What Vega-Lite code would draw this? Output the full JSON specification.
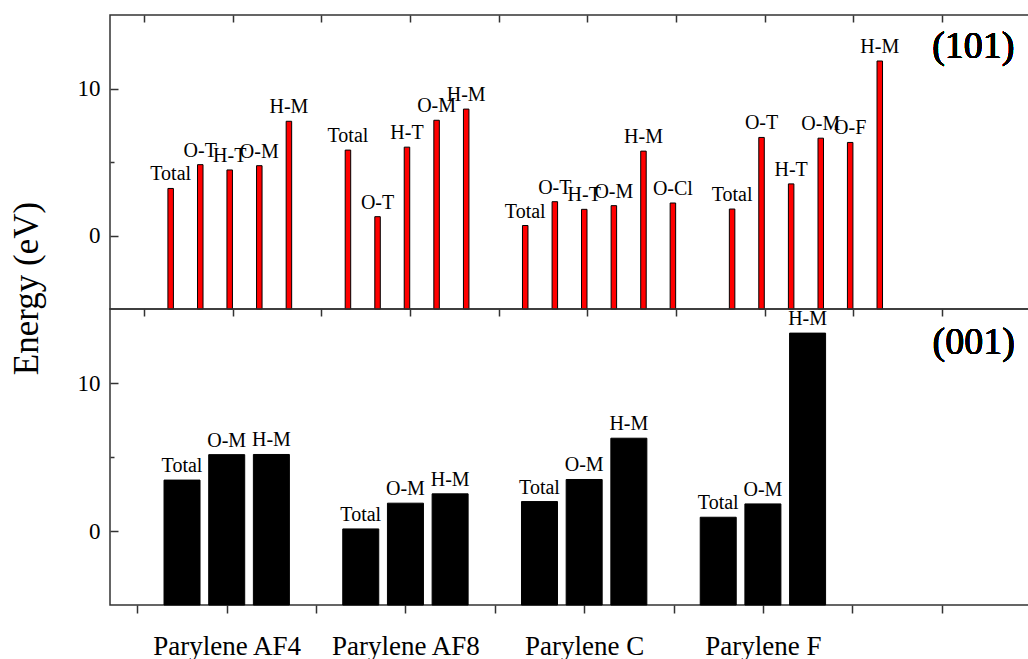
{
  "$schema": "https://vega.github.io/schema/vega-lite/v6.json",
  "background": "white",
  "padding": {"left": 8, "top": 13, "right": 0, "bottom": 0},
  "spacing": 0,
  "bounds": "flush",
  "config": {
    "view": {"stroke": "#333", "strokeWidth": 1.5},
    "font": "Liberation Serif",
    "axis": {"domain": false, "grid": false, "labelFont": "Liberation Serif", "titleFont": "Liberation Serif", "labelColor": "#000", "titleColor": "#000", "tickColor": "#333", "tickWidth": 1.5},
    "text": {"font": "Liberation Serif", "color": "#000", "fontWeight": "normal"}
  },
  "vconcat": [
    {
      "width": 926,
      "height": 294,
      "data": {"values": [
        {"material": "Parylene AF4", "label": "Total", "x": 0.65, "energy": 3.20},
        {"material": "Parylene AF4", "label": "O-T", "x": 0.817, "energy": 4.82},
        {"material": "Parylene AF4", "label": "H-T", "x": 0.983, "energy": 4.46},
        {"material": "Parylene AF4", "label": "O-M", "x": 1.15, "energy": 4.75},
        {"material": "Parylene AF4", "label": "H-M", "x": 1.317, "energy": 7.77},
        {"material": "Parylene AF8", "label": "Total", "x": 1.65, "energy": 5.81},
        {"material": "Parylene AF8", "label": "O-T", "x": 1.817, "energy": 1.28},
        {"material": "Parylene AF8", "label": "H-T", "x": 1.983, "energy": 6.01},
        {"material": "Parylene AF8", "label": "O-M", "x": 2.15, "energy": 7.84},
        {"material": "Parylene AF8", "label": "H-M", "x": 2.317, "energy": 8.60},
        {"material": "Parylene C", "label": "Total", "x": 2.65, "energy": 0.68},
        {"material": "Parylene C", "label": "O-T", "x": 2.817, "energy": 2.30},
        {"material": "Parylene C", "label": "H-T", "x": 2.983, "energy": 1.78},
        {"material": "Parylene C", "label": "O-M", "x": 3.15, "energy": 2.03},
        {"material": "Parylene C", "label": "H-M", "x": 3.317, "energy": 5.74},
        {"material": "Parylene C", "label": "O-Cl", "x": 3.483, "energy": 2.21},
        {"material": "Parylene F", "label": "Total", "x": 3.817, "energy": 1.80},
        {"material": "Parylene F", "label": "O-T", "x": 3.983, "energy": 6.67},
        {"material": "Parylene F", "label": "H-T", "x": 4.15, "energy": 3.51},
        {"material": "Parylene F", "label": "O-M", "x": 4.317, "energy": 6.62},
        {"material": "Parylene F", "label": "O-F", "x": 4.483, "energy": 6.33},
        {"material": "Parylene F", "label": "H-M", "x": 4.65, "energy": 11.87}
      ]},
      "layer": [
        {
          "mark": {"type": "bar", "width": 5.5, "color": "#ff0000", "stroke": "#000", "strokeWidth": 1},
          "encoding": {
            "x": {"field": "x", "type": "quantitative",
              "scale": {"domain": [0.336, 5.503], "nice": false, "zero": false},
              "axis": {"orient": "bottom", "values": [0.5, 1, 1.5, 2, 2.5, 3, 3.5, 4, 4.5, 5], "labels": false, "tickSize": 7, "title": null}},
            "y": {"field": "energy", "type": "quantitative",
              "scale": {"domain": [-5, 15], "nice": false, "zero": false},
              "axis": {"orient": "left", "values": [0, 5, 10], "labelExpr": "datum.value == 5 ? '' : datum.label",
                "tickSize": {"condition": {"test": "datum.value == 5", "value": -4}, "value": -8},
                "labelFontSize": 23, "labelPadding": 18,
                "title": "Energy (eV)", "titleFontSize": 35, "titleFontWeight": "normal",
                "titleAngle": -90, "titleBaseline": "alphabetic", "titleAlign": "center", "titleX": -73, "titleY": 273}},
            "y2": {"datum": -5}
          }
        },
        {
          "mark": {"type": "text", "baseline": "alphabetic", "dy": -8, "fontSize": 20},
          "encoding": {
            "x": {"field": "x", "type": "quantitative",
              "axis": {"orient": "top", "values": [0.5, 1, 1.5, 2, 2.5, 3, 3.5, 4, 4.5, 5], "labels": false, "tickSize": -7, "title": null}},
            "y": {"field": "energy", "type": "quantitative",
              "axis": {"orient": "right", "values": [0, 5, 10], "labels": false,
                "tickSize": {"condition": {"test": "datum.value == 5", "value": -4}, "value": -8}, "title": null}},
            "text": {"field": "label"}
          }
        },
        {
          "mark": {"type": "text", "align": "right", "baseline": "middle", "fontSize": 38, "fontWeight": "normal"},
          "encoding": {
            "x": {"datum": 5.41, "type": "quantitative", "axis": null},
            "y": {"datum": 12.8, "type": "quantitative", "axis": null},
            "text": {"value": "(101)"}
          }
        }
      ],
      "resolve": {"axis": {"x": "independent", "y": "independent"}}
    },
    {
      "width": 926,
      "height": 296,
      "data": {"values": [
        {"material": "Parylene AF4", "label": "Total", "x": 0.75, "energy": 3.44},
        {"material": "Parylene AF4", "label": "O-M", "x": 1.0, "energy": 5.16},
        {"material": "Parylene AF4", "label": "H-M", "x": 1.25, "energy": 5.17},
        {"material": "Parylene AF8", "label": "Total", "x": 1.75, "energy": 0.14},
        {"material": "Parylene AF8", "label": "O-M", "x": 2.0, "energy": 1.88},
        {"material": "Parylene AF8", "label": "H-M", "x": 2.25, "energy": 2.51},
        {"material": "Parylene C", "label": "Total", "x": 2.75, "energy": 1.99},
        {"material": "Parylene C", "label": "O-M", "x": 3.0, "energy": 3.48},
        {"material": "Parylene C", "label": "H-M", "x": 3.25, "energy": 6.27},
        {"material": "Parylene F", "label": "Total", "x": 3.75, "energy": 0.93},
        {"material": "Parylene F", "label": "O-M", "x": 4.0, "energy": 1.83},
        {"material": "Parylene F", "label": "H-M", "x": 4.25, "energy": 13.37}
      ]},
      "layer": [
        {
          "mark": {"type": "bar", "width": 36, "color": "#000", "stroke": "#000", "strokeWidth": 1},
          "encoding": {
            "x": {"field": "x", "type": "quantitative",
              "scale": {"domain": [0.375, 5.5], "nice": false, "zero": false},
              "axis": {"orient": "bottom", "values": [0.5, 1, 1.5, 2, 2.5, 3, 3.5, 4, 4.5, 5],
                "labelExpr": "datum.value == 1 ? 'Parylene AF4' : datum.value == 2 ? 'Parylene AF8' : datum.value == 3 ? 'Parylene C' : datum.value == 4 ? 'Parylene F' : ''",
                "tickSize": 8, "labelFontSize": 27, "labelPadding": 20, "labelOverlap": false, "title": null}},
            "y": {"field": "energy", "type": "quantitative",
              "scale": {"domain": [-5, 15], "nice": false, "zero": false},
              "axis": {"orient": "left", "values": [0, 5, 10], "labelExpr": "datum.value == 5 ? '' : datum.label",
                "tickSize": {"condition": {"test": "datum.value == 5", "value": -4}, "value": -8},
                "labelFontSize": 23, "labelPadding": 18, "title": null}},
            "y2": {"datum": -5}
          }
        },
        {
          "mark": {"type": "text", "baseline": "alphabetic", "dy": -8, "fontSize": 20},
          "encoding": {
            "x": {"field": "x", "type": "quantitative", "axis": null},
            "y": {"field": "energy", "type": "quantitative",
              "axis": {"orient": "right", "values": [0, 5, 10], "labels": false,
                "tickSize": {"condition": {"test": "datum.value == 5", "value": -4}, "value": -8}, "title": null}},
            "text": {"field": "label"}
          }
        },
        {
          "mark": {"type": "text", "align": "right", "baseline": "middle", "fontSize": 38, "fontWeight": "normal"},
          "encoding": {
            "x": {"datum": 5.41, "type": "quantitative", "axis": null},
            "y": {"datum": 12.7, "type": "quantitative", "axis": null},
            "text": {"value": "(001)"}
          }
        }
      ],
      "resolve": {"axis": {"x": "independent", "y": "independent"}}
    }
  ]
}
